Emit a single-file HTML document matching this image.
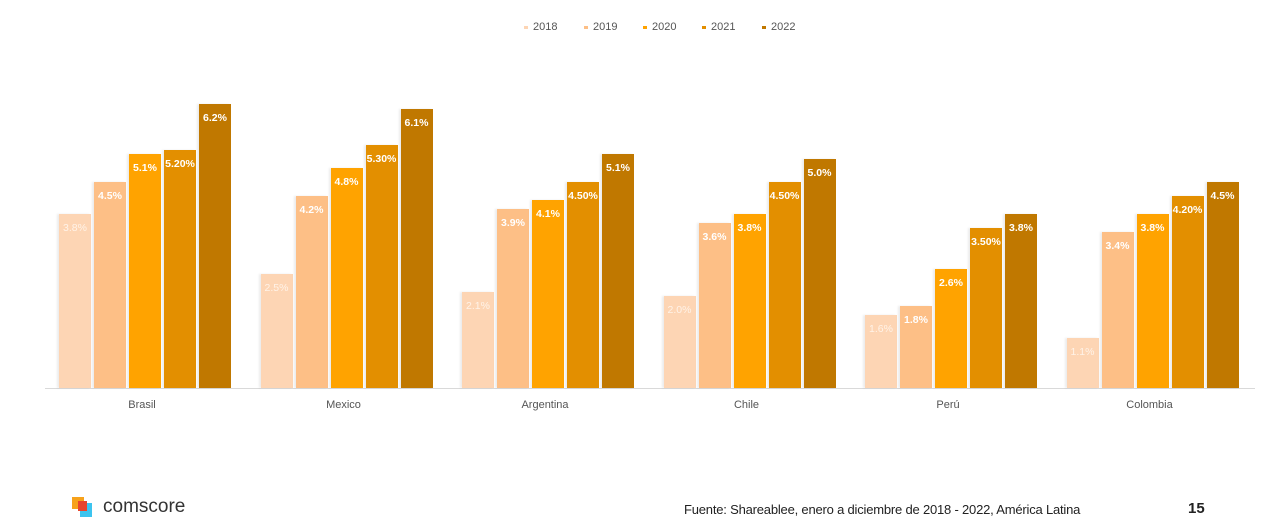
<!DOCTYPE html><html><head><meta charset="utf-8"><style>
body{margin:0;width:1272px;height:531px;background:#fff;position:relative;font-family:"Liberation Sans",sans-serif;overflow:hidden}
.b{position:absolute;width:32px;box-shadow:-2px 0 2px rgba(0,0,0,.08)}
.l{position:absolute;width:34px;text-align:center;color:#fff;font-size:10.5px;font-weight:bold}
.c{position:absolute;top:399px;font-size:11px;color:#555;width:100px;text-align:center}
.lg{position:absolute;top:21px;font-size:11px;color:#555}
.lg i{display:inline-block;width:4px;height:3px;margin-right:5px;vertical-align:middle}
</style></head><body>
<div class="lg" style="left:524px"><i style="background:#FDD5B4"></i>2018</div>
<div class="lg" style="left:584px"><i style="background:#FDBF86"></i>2019</div>
<div class="lg" style="left:643px"><i style="background:#FFA300"></i>2020</div>
<div class="lg" style="left:702px"><i style="background:#E38F00"></i>2021</div>
<div class="lg" style="left:762px"><i style="background:#C07800"></i>2022</div>
<div style="position:absolute;left:45px;top:388px;width:1210px;height:1px;background:#d9d9d9"></div>
<div id="ch"></div>
<div style="position:absolute;left:72px;top:497px;width:12px;height:12px;background:#f7a21b"></div>
<div style="position:absolute;left:80px;top:503px;width:12px;height:14px;background:#3cc4ef"></div>
<div style="position:absolute;left:78px;top:501px;width:9px;height:10px;background:#e8452c"></div>
<div style="position:absolute;left:103px;top:496px;font-size:19px;color:#333">comscore</div>
<div style="position:absolute;left:684px;top:502px;font-size:13px;color:#222;letter-spacing:-0.2px">Fuente: Shareablee, enero a diciembre de 2018 - 2022, América Latina</div>
<div style="position:absolute;left:1188px;top:500px;font-size:15px;font-weight:bold;color:#222">15</div>
<script>
var d=[["Brasil",[3.8,4.5,5.1,"5.20",6.2]],["Mexico",[2.5,4.2,4.8,"5.30",6.1]],["Argentina",[2.1,3.9,4.1,"4.50",5.1]],["Chile",["2.0",3.6,3.8,"4.50","5.0"]],["Perú",[1.6,1.8,2.6,"3.50",3.8]],["Colombia",[1.1,3.4,3.8,"4.20",4.5]]];
var col=["#FDD5B4","#FDBF86","#FFA300","#E38F00","#C07800"],lc=["#fff3e8","#fff","#fff","#fff","#fff"];
var h="";d.forEach(function(g,i){var x0=59+i*201.5;g[1].forEach(function(v,j){var x=x0+j*35,ht=parseFloat(v)*45.8,t=388-ht;
h+='<div class="b" style="left:'+x+'px;top:'+t+'px;height:'+ht+'px;background:'+col[j]+'"></div>';
h+='<div class="l" style="left:'+(x-1)+'px;top:'+(t+8)+'px;color:'+lc[j]+(j==0?';font-weight:normal':'')+'">'+v+'%</div>';});
h+='<div class="c" style="left:'+(x0+33)+'px">'+g[0]+'</div>';});
document.getElementById("ch").innerHTML=h;
</script></body></html>
